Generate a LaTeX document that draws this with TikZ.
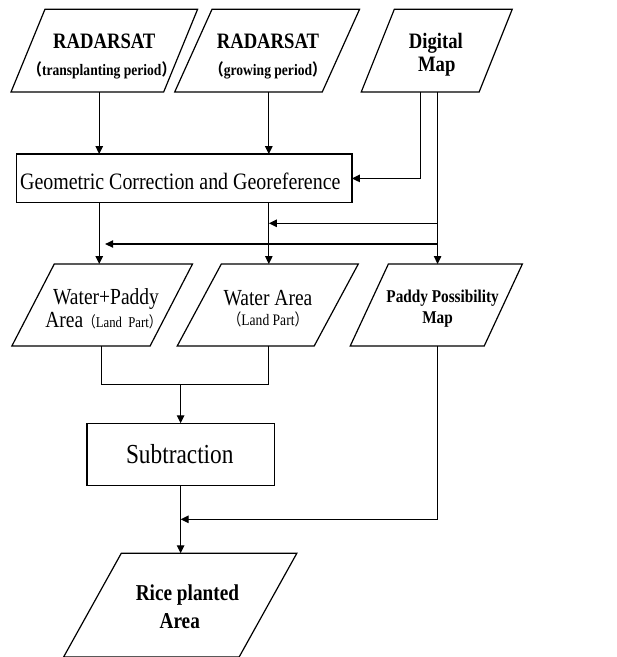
\documentclass[tikz,border=0pt]{standalone}
\usepackage{fontspec}
\setmainfont{Liberation Serif}
\newfontfamily\cjkfont{Noto Sans CJK SC}
\usetikzlibrary{arrows.meta}
\newcommand{\fwlp}{{\cjkfont （}}
\newcommand{\fwrp}{{\cjkfont ）}}
\newcommand{\fsz}[1]{\fontsize{#1}{#1}\selectfont}
\newcommand{\slantbox}[2]{\draw[ln] ([xshift=#2pt]#1.north west) -- (#1.north east) -- ([xshift=-#2pt]#1.south east) -- (#1.south west) -- cycle;}
\begin{document}
\begin{tikzpicture}[x=1pt,y=-1pt,xscale=0.848,
  every node/.append style={transform shape},
  ln/.style={line width=1.2pt, line join=miter},
  arr/.style={ln, -{Triangle[length=8pt,width=7.5pt]}},
  shapebox/.style={inner sep=0pt, outer sep=0pt},
  rectbox/.style={draw, ln, inner sep=0pt, outer sep=0pt},
  txt/.style={anchor=base, inner sep=0pt},
]
\useasboundingbox (0,0) rectangle (726.42,657);

% ---- top row
\node[shapebox, minimum width=220pt, minimum height=82.7pt] (p1) at (123,50.65) {};
\node[shapebox, minimum width=218pt, minimum height=82.7pt] (p2) at (315,50.65) {};
\node[shapebox, minimum width=178pt, minimum height=82.7pt] (p3) at (515,50.65) {};
\slantbox{p1}{40}
\slantbox{p2}{44}
\slantbox{p3}{39}
\node[txt, font=\bfseries\fsz{22}] (p1a) at (123,48) {RADARSAT};
\node[txt, font=\bfseries\fsz{16}] (p1b) at (120,75) {\fwlp transplanting period\fwrp};
\node[txt, font=\bfseries\fsz{22}] (p2a) at (316,48) {RADARSAT};
\node[txt, font=\bfseries\fsz{16}] (p2b) at (316,75) {\fwlp growing period\fwrp};
\node[txt, font=\bfseries\fsz{22}] (p3a) at (514,48) {Digital};
\node[txt, font=\bfseries\fsz{22}] (p3b) at (515,71) {Map};

% ---- geometric correction
\node[rectbox, minimum width=395.4pt, minimum height=48.7pt] (geo) at (217.3,178.4) {};
\node[txt, font=\fsz{23.5}] (geot) at (212.6,189) {Geometric Correction and Georeference};

% ---- second row
\node[shapebox, minimum width=213pt, minimum height=82pt] (wp) at (120.5,305) {};
\node[shapebox, minimum width=213.5pt, minimum height=82pt] (wa) at (315.75,305) {};
\node[shapebox, minimum width=203pt, minimum height=82pt] (pad) at (514.5,305) {};
\slantbox{wp}{50}
\slantbox{wa}{52}
\slantbox{pad}{45}
\node[txt, font=\fsz{23}] (wpa) at (125,304) {Water+Paddy};
\node[txt, font=\fsz{23}] (wpb) at (122,327) {Area{\fsz{15}\fwlp Land\ \ Part\fwrp}};
\node[txt, font=\fsz{23}] (waa) at (316,305) {Water Area};
\node[txt, font=\fsz{16}] (wab) at (316,325.5) {\fwlp Land Part\fwrp};
\node[txt, font=\bfseries\fsz{18}] (pada) at (522,302) {Paddy Possibility};
\node[txt, font=\bfseries\fsz{18}] (padb) at (516,323) {Map};

% ---- subtraction
\node[rectbox, minimum width=220.8pt, minimum height=62pt] (sub) at (213,454.3) {};
\node[txt, font=\fsz{27.5}] (subt) at (212,463.3) {Subtraction};

% ---- result
\node[shapebox, minimum width=275pt, minimum height=103.7pt] (rice) at (212.5,605.15) {};
\slantbox{rice}{68}
\node[txt, font=\bfseries\fsz{22.7}] (ricea) at (221,600.5) {Rice planted};
\node[txt, font=\bfseries\fsz{22.7}] (riceb) at (212,628) {Area};

% ---- helper coordinates
\coordinate (xa) at (117,0);
\coordinate (xb) at (317,0);
\coordinate (xd) at (496,0);
\coordinate (xe) at (516,0);
\coordinate (xf) at (119.3,0);
\coordinate (xg) at (316.3,0);
\coordinate (h1) at (0,223.3);
\coordinate (h2) at (124,244);
\coordinate (jn) at (0,384.3);
\coordinate (kn) at (0,519.3);

% ---- connectors
\draw[arr] (xa |- p1.south) -- (xa |- geo.north);
\draw[arr] (xb |- p2.south) -- (xb |- geo.north);
\draw[arr] (xd |- p3.south) -- (xd |- geo.east) -- (geo.east);
\draw[arr] (xe |- p3.south) -- (xe |- pad.north);
\draw[arr] (xe |- h1) -- (xb |- h1);
\draw[arr] (xe |- h2) -- (h2);
\draw[arr] (xa |- geo.south) -- (xa |- wp.north);
\draw[arr] (xb |- geo.south) -- (xb |- wa.north);
\draw[ln] (xf |- wp.south) -- (xf |- jn) -- (xg |- jn) -- (xg |- wa.south);
\draw[arr] (sub.north |- jn) -- (sub.north);
\draw[arr] (sub.south) -- (sub.south |- rice.north);
\draw[arr] (xe |- pad.south) -- (xe |- kn) -- (sub.south |- kn);
\end{tikzpicture}
\end{document}
